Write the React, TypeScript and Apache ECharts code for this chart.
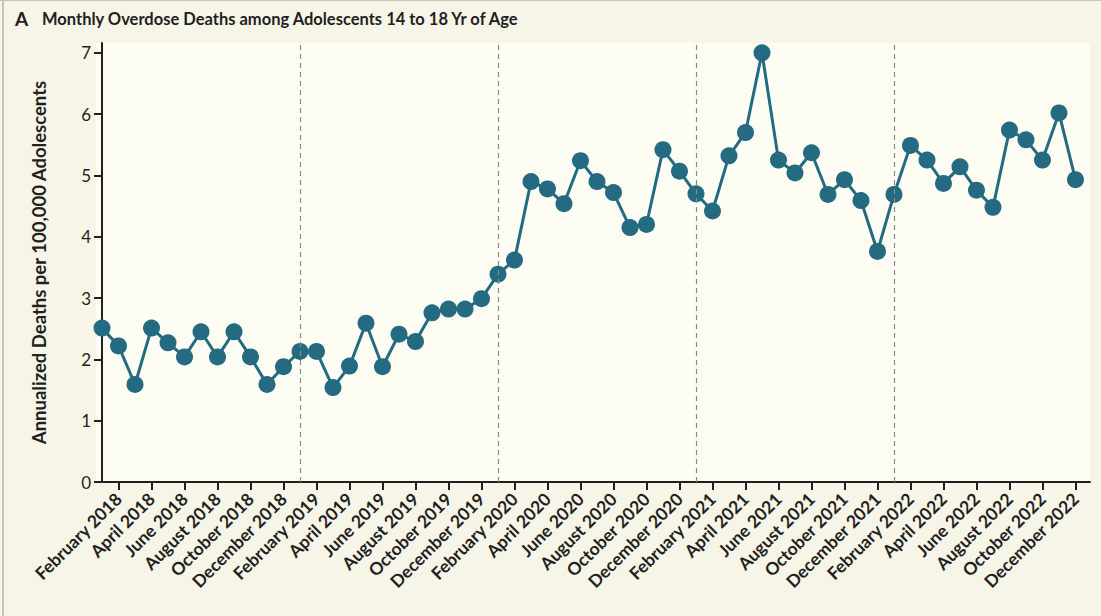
import React, { useEffect, useRef } from "react";
import * as echarts from "echarts";

const monthNames = ["January", "February", "March", "April", "May", "June", "July", "August", "September", "October", "November", "December"];
const years = [2018, 2019, 2020, 2021, 2022];
const categories: string[] = years.flatMap((y) => monthNames.map((m) => `${m} ${y}`));

// Annualized overdose deaths per 100,000 adolescents, Jan 2018 – Dec 2022
const rate2018 = [2.51, 2.22, 1.59, 2.51, 2.27, 2.04, 2.45, 2.04, 2.45, 2.04, 1.59, 1.88];
const rate2019 = [2.13, 2.13, 1.54, 1.89, 2.59, 1.88, 2.41, 2.29, 2.76, 2.82, 2.82, 2.99];
const rate2020 = [3.39, 3.62, 4.9, 4.78, 4.54, 5.24, 4.9, 4.72, 4.15, 4.2, 5.42, 5.07];
const rate2021 = [4.7, 4.42, 5.32, 5.7, 7.0, 5.25, 5.04, 5.37, 4.69, 4.93, 4.59, 3.76];
const rate2022 = [4.69, 5.49, 5.25, 4.87, 5.14, 4.76, 4.48, 5.74, 5.58, 5.25, 6.02, 4.93];
const rates = [...rate2018, ...rate2019, ...rate2020, ...rate2021, ...rate2022];

const yTicks = [0, 1, 2, 3, 4, 5, 6, 7];
// labelled ticks: every other month starting February 2018
const xTickIndex = categories.map((_, i) => i).filter((i) => i % 2 === 1);
// year boundaries (January of each year after the first)
const yearStartIndex = [12, 24, 36, 48];

const INK = "#231f20";
const LINE = "#246a80";
const FONT = "Lato, 'Open Sans', sans-serif";

export default function App() {
  const ref = useRef<HTMLDivElement>(null);
  useEffect(() => {
    if (!ref.current) return;
    const chart = echarts.init(ref.current, undefined, { renderer: "svg" });
    chart.setOption({
      animation: false,
      backgroundColor: "#f7f5e8",
      textStyle: { fontFamily: FONT },
      grid: {
        left: 96,
        right: 11,
        top: 43,
        bottom: 134,
        show: true,
        backgroundColor: "#fdfdf4",
        borderWidth: 0,
      },
      xAxis: {
        type: "value",
        min: -0.364,
        max: 59.88,
        axisLine: { show: true, onZero: false, lineStyle: { color: INK, width: 2 } },
        axisTick: {
          show: true,
          customValues: xTickIndex,
          length: 8,
          lineStyle: { color: INK, width: 2 },
        },
        axisLabel: {
          customValues: xTickIndex,
          rotate: 45,
          margin: 14,
          color: INK,
          fontFamily: FONT,
          fontSize: 17.5,
          fontWeight: "bold",
          formatter: (v: number) => categories[Math.round(v)] ?? "",
        },
        splitLine: { show: false },
      },
      yAxis: {
        type: "value",
        min: 0,
        max: 7.16,
        name: "Annualized Deaths per 100,000 Adolescents",
        nameLocation: "middle",
        nameRotate: 90,
        nameGap: 48,
        nameTextStyle: { color: INK, fontFamily: FONT, fontSize: 18.5, fontWeight: "bold" },
        axisLine: { show: true, lineStyle: { color: INK, width: 2 } },
        axisTick: { show: true, customValues: yTicks, length: 8, lineStyle: { color: INK, width: 2 } },
        axisLabel: { customValues: yTicks, margin: 5, color: INK, fontFamily: FONT, fontSize: 17 },
        splitLine: { show: false },
      },
      graphic: [
        { type: "rect", shape: { x: 0, y: 0, width: 1101, height: 1 }, style: { fill: "#c8c6bc" } },
        { type: "rect", shape: { x: 2, y: 0, width: 2, height: 616 }, style: { fill: "#c8c6bc" } },
        {
          type: "text",
          left: 15,
          top: 9,
          style: { text: "A", fill: INK, font: `bold 19px ${FONT}` },
        },
        {
          type: "text",
          left: 42,
          top: 10,
          style: {
            text: "Monthly Overdose Deaths among Adolescents 14 to 18 Yr of Age",
            fill: INK,
            font: `bold 16.5px ${FONT}`,
          },
        },
      ],
      series: [
        {
          type: "line",
          data: rates.map((v, i) => [i, v]),
          symbol: "circle",
          symbolSize: 17,
          itemStyle: { color: LINE },
          lineStyle: { color: LINE, width: 3 },
          markLine: {
            silent: true,
            symbol: "none",
            label: { show: false },
            lineStyle: { color: "#8a8a86", type: [5, 4], width: 1.2 },
            data: yearStartIndex.map((x) => ({ xAxis: x })),
          },
          z: 3,
        },
      ],
    });
    return () => chart.dispose();
  }, []);
  return (
    <div
      ref={ref}
      style={{ position: "fixed", left: 0, top: 0, width: 1101, height: 616 }}
    />
  );
}
